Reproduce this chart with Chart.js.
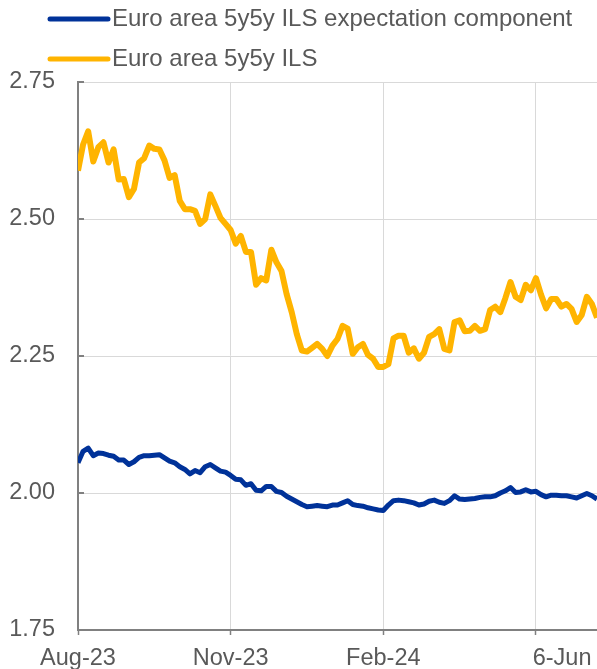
<!DOCTYPE html>
<html>
<head>
<meta charset="utf-8">
<script src="https://cdn.jsdelivr.net/npm/chart.js@4.4.1/dist/chart.umd.min.js"></script>
<style>
  body { margin: 0; background: #fff; }
  #wrap { width: 597px; height: 669px; position: relative; }
</style>
</head>
<body>
<div id="wrap"><canvas id="chart"></canvas></div>
<script>
// tick labels on the x axis and the index of the observation they sit on
const xTickLabels = ['Aug-23', 'Nov-23', 'Feb-24', '6-Jun'];
const xTickIndex = [0, 30, 60, 90];
const yTicks = [1.75, 2.00, 2.25, 2.50, 2.75];

const seriesNames = ['Euro area 5y5y ILS expectation component', 'Euro area 5y5y ILS'];

// Euro area 5y5y ILS expectation component
const expectation = [
    2.055, 2.076, 2.082, 2.068, 2.073, 2.072, 2.069, 2.067, 2.060, 2.060,
    2.052, 2.057, 2.065, 2.068, 2.068, 2.069, 2.070, 2.064, 2.058, 2.055,
    2.048, 2.043, 2.035, 2.041, 2.037, 2.048, 2.052, 2.046, 2.040, 2.038,
    2.032, 2.025, 2.024, 2.014, 2.017, 2.005, 2.004, 2.012, 2.012, 2.003,
    2.001, 1.994, 1.989, 1.984, 1.979, 1.975, 1.976, 1.977, 1.976, 1.975,
    1.978, 1.978, 1.982, 1.986, 1.979, 1.977, 1.976, 1.973, 1.971, 1.969,
    1.968, 1.978, 1.986, 1.987, 1.986, 1.984, 1.982, 1.978, 1.980, 1.985,
    1.987, 1.983, 1.981, 1.986, 1.995, 1.989, 1.988, 1.989, 1.990, 1.992,
    1.993, 1.993, 1.995, 2.000, 2.004, 2.010, 2.001, 2.002, 2.006, 2.002,
    2.003, 1.997, 1.993, 1.996, 1.996, 1.995, 1.995, 1.993, 1.991, 1.995,
    1.999, 1.995, 1.989
];

// Euro area 5y5y ILS
const ils = [
    2.588, 2.636, 2.660, 2.605, 2.631, 2.640, 2.603, 2.627, 2.572, 2.573,
    2.540, 2.555, 2.603, 2.611, 2.634, 2.628, 2.627, 2.607, 2.575, 2.580,
    2.533, 2.518, 2.518, 2.515, 2.491, 2.500, 2.545, 2.524, 2.502, 2.491,
    2.480, 2.455, 2.469, 2.440, 2.440, 2.380, 2.392, 2.388, 2.444, 2.421,
    2.405, 2.363, 2.330, 2.290, 2.260, 2.258, 2.265, 2.272, 2.263, 2.250,
    2.269, 2.281, 2.305, 2.300, 2.254, 2.266, 2.272, 2.252, 2.245, 2.230,
    2.230, 2.235, 2.282, 2.287, 2.287, 2.256, 2.264, 2.245, 2.256, 2.285,
    2.290, 2.299, 2.263, 2.260, 2.312, 2.315, 2.295, 2.296, 2.305, 2.296,
    2.299, 2.334, 2.340, 2.330, 2.356, 2.385, 2.358, 2.352, 2.380, 2.370,
    2.392, 2.362, 2.337, 2.354, 2.354, 2.340, 2.345, 2.336, 2.312, 2.325,
    2.358, 2.345, 2.320
];

const textColor = '#595959';
const axisColor = '#808080';
const gridColor = '#d9d9d9';
const fontFamily = 'Liberation Sans, Arial, sans-serif';
const tickFont = { family: fontFamily, size: 23.5 };
const legendFontSize = 24;

function toPoints(values) {
    return values.map((v, i) => ({ x: i, y: v }));
}

// short tick marks on the inside of the y axis
const yTickMarks = {
    id: 'yTickMarks',
    beforeDatasetsDraw(chart) {
        const { ctx, chartArea, scales } = chart;
        ctx.save();
        ctx.strokeStyle = axisColor;
        ctx.lineWidth = 2;
        yTicks.forEach(t => {
            const y = Math.round(scales.y.getPixelForValue(t));
            ctx.beginPath();
            ctx.moveTo(chartArea.left, y);
            ctx.lineTo(chartArea.left + 6, y);
            ctx.stroke();
        });
        ctx.restore();
    }
};

// legend: line sample and label, one row per series
const lineLegend = {
    id: 'lineLegend',
    afterDraw(chart) {
        const ctx = chart.ctx;
        ctx.save();
        ctx.font = legendFontSize + 'px ' + fontFamily;
        ctx.textBaseline = 'middle';
        ctx.textAlign = 'left';
        chart.data.datasets.forEach((ds, i) => {
            const y = 19 + i * 40;
            ctx.strokeStyle = ds.borderColor;
            ctx.lineWidth = 5;
            ctx.lineCap = 'round';
            ctx.beginPath();
            ctx.moveTo(50, y);
            ctx.lineTo(108, y);
            ctx.stroke();
            ctx.fillStyle = textColor;
            ctx.fillText(ds.label, 112, y);
        });
        ctx.restore();
    }
};

new Chart(document.getElementById('chart'), {
    type: 'line',
    data: {
        datasets: [
            {
                label: seriesNames[0],
                data: toPoints(expectation),
                borderColor: '#003299',
                borderWidth: 5,
                pointRadius: 0,
                tension: 0,
                borderJoinStyle: 'round'
            },
            {
                label: seriesNames[1],
                data: toPoints(ils),
                borderColor: '#ffb400',
                borderWidth: 6,
                pointRadius: 0,
                tension: 0,
                borderJoinStyle: 'round'
            }
        ]
    },
    options: {
        responsive: true,
        maintainAspectRatio: false,
        animation: false,
        layout: { padding: { top: 82, right: 0, bottom: 0, left: 0 } },
        plugins: {
            legend: { display: false },
            tooltip: { enabled: false }
        },
        scales: {
            x: {
                type: 'linear',
                min: 0,
                max: expectation.length - 1,
                afterBuildTicks: s => { s.ticks = xTickIndex.map(v => ({ value: v })); },
                afterFit: s => { s.height = 39; s.paddingLeft = 0; s.paddingRight = 0; },
                ticks: {
                    autoSkip: false,
                    maxRotation: 0,
                    color: textColor,
                    font: tickFont,
                    padding: 9,
                    callback: (v, i) => i === xTickLabels.length - 1 ? '        ' + xTickLabels[i] : xTickLabels[i]
                },
                grid: { color: gridColor, tickColor: axisColor, tickLength: 5, tickWidth: 1.5 },
                border: { color: axisColor, width: 2 }
            },
            y: {
                min: 1.75,
                max: 2.75,
                afterBuildTicks: s => { s.ticks = yTicks.map(v => ({ value: v })); },
                afterFit: s => { s.width = 78; },
                ticks: {
                    color: textColor,
                    font: tickFont,
                    padding: 23,
                    callback: v => v.toFixed(2)
                },
                grid: { color: gridColor, drawTicks: false },
                border: { color: axisColor, width: 2 }
            }
        }
    },
    plugins: [yTickMarks, lineLegend]
});
</script>
</body>
</html>
